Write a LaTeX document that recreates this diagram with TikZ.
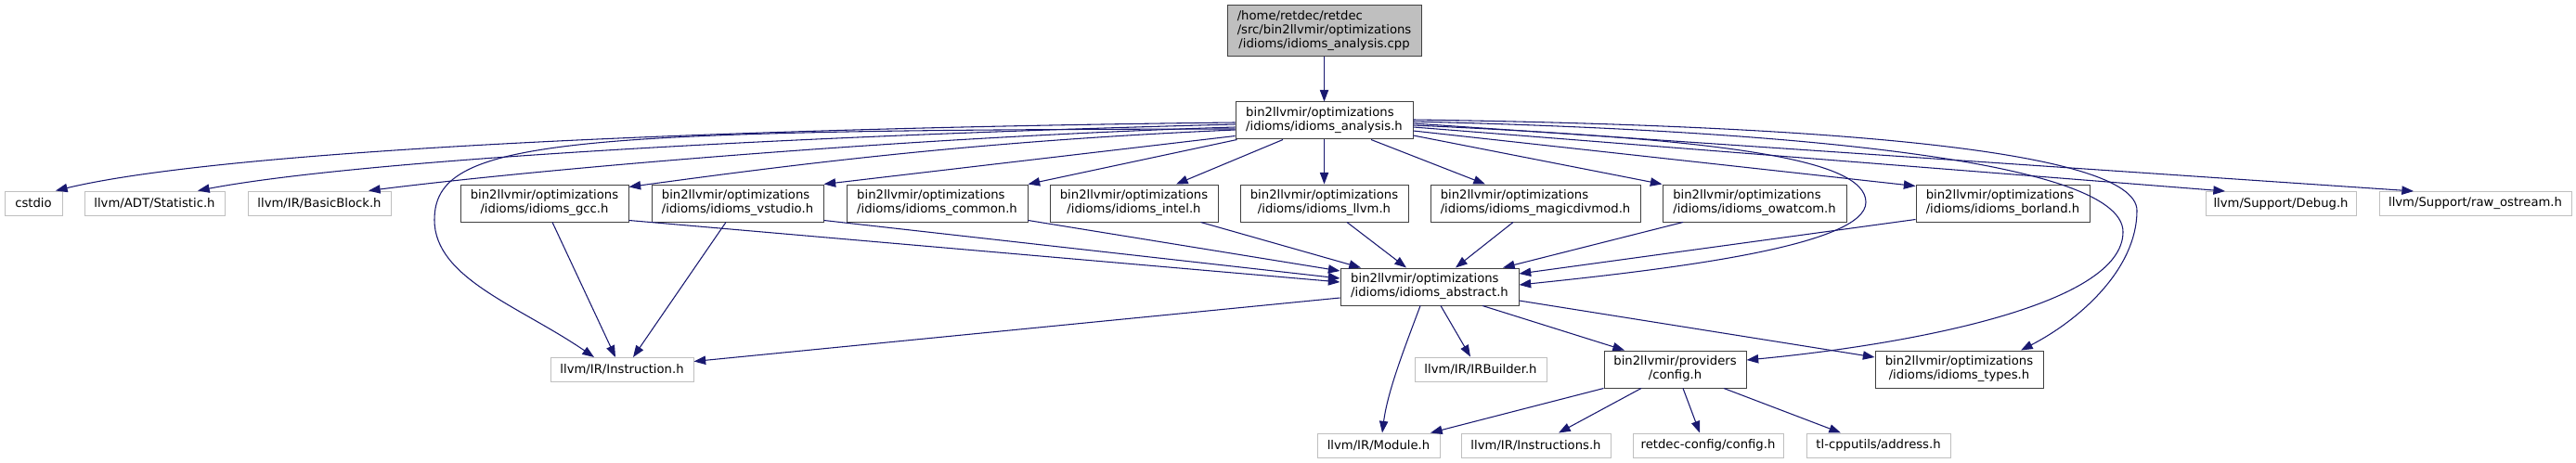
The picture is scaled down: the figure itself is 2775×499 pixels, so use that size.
\documentclass[tikz,border=0pt]{standalone}
\usepackage{fontspec}
\setmainfont{DejaVu Sans}
\usetikzlibrary{arrows.meta}
\definecolor{mblue}{HTML}{191970}
\definecolor{nbord}{HTML}{404040}
\definecolor{ebord}{HTML}{BFBFBF}
\definecolor{topfill}{HTML}{BFBFBF}
\newcommand\lbl{\fontsize{9.9}{11.25}\selectfont}
\newcommand\two[2]{\begin{tabular}{@{}l@{}}#1\\\multicolumn{1}{@{}c@{}}{#2}\end{tabular}}
\newcommand\three[3]{\begin{tabular}{@{}l@{}}#1\\#2\\\multicolumn{1}{@{}c@{}}{#3}\end{tabular}}
\tikzset{
  sz/.style 2 args={minimum width=#1*0.75pt, minimum height=#2*0.75pt},
  hnode/.style={draw=nbord, fill=white, line width=0.75pt, inner sep=0pt, font=\lbl},
  enode/.style={draw=ebord, fill=white, line width=0.75pt, inner sep=0pt, font=\lbl},
  dep/.style={draw=mblue, line width=0.8pt, -{Triangle[length=9.5pt,width=7pt]}},
}
\begin{document}
\begin{tikzpicture}[x=0.75pt,y=-0.75pt]
\useasboundingbox (0,0) rectangle (2775,499);
% nodes
\node[hnode, fill=topfill, sz={209}{55}] (top) at (1426.5,33.5) {\three{/home/retdec/retdec}{/src/bin2llvmir/optimizations}{/idioms/idioms\_analysis.cpp}};
\node[hnode, sz={191}{40}] (analysis) at (1426.5,130) {\two{bin2llvmir/optimizations}{/idioms/idioms\_analysis.h}};
\node[enode, sz={62}{26}] (cstdio) at (36,219) {cstdio};
\node[enode, sz={151}{26}] (stat) at (166.5,219) {llvm/ADT/Statistic.h};
\node[enode, sz={154}{26}] (bb) at (344,219) {llvm/IR/BasicBlock.h};
\node[hnode, sz={181}{40}] (gcc) at (586.5,219) {\two{bin2llvmir/optimizations}{/idioms/idioms\_gcc.h}};
\node[hnode, sz={185}{40}] (vstudio) at (794.5,219) {\two{bin2llvmir/optimizations}{/idioms/idioms\_vstudio.h}};
\node[hnode, sz={195}{40}] (common) at (1009.5,219) {\two{bin2llvmir/optimizations}{/idioms/idioms\_common.h}};
\node[hnode, sz={181}{40}] (intel) at (1221.5,219) {\two{bin2llvmir/optimizations}{/idioms/idioms\_intel.h}};
\node[hnode, sz={181}{40}] (llvm) at (1426.5,219) {\two{bin2llvmir/optimizations}{/idioms/idioms\_llvm.h}};
\node[hnode, sz={226}{40}] (magic) at (1654,219) {\two{bin2llvmir/optimizations}{/idioms/idioms\_magicdivmod.h}};
\node[hnode, sz={198}{40}] (owatcom) at (1890,219) {\two{bin2llvmir/optimizations}{/idioms/idioms\_owatcom.h}};
\node[hnode, sz={187}{40}] (borland) at (2157.5,219) {\two{bin2llvmir/optimizations}{/idioms/idioms\_borland.h}};
\node[enode, sz={162}{26}] (debug) at (2457,219.5) {llvm/Support/Debug.h};
\node[enode, sz={207}{26}] (raw) at (2666.5,219.5) {llvm/Support/raw\_ostream.h};
\node[hnode, sz={192}{40}] (abstract) at (1540,309) {\two{bin2llvmir/optimizations}{/idioms/idioms\_abstract.h}};
\node[enode, sz={154}{26}] (instr) at (670,398.5) {llvm/IR/Instruction.h};
\node[enode, sz={142}{26}] (irb) at (1595,398) {llvm/IR/IRBuilder.h};
\node[hnode, sz={153}{40}] (config) at (1804.5,398) {\two{bin2llvmir/providers}{/config.h}};
\node[hnode, sz={181}{40}] (types) at (2110.5,398) {\two{bin2llvmir/optimizations}{/idioms/idioms\_types.h}};
\node[enode, sz={132}{26}] (module) at (1485,480) {llvm/IR/Module.h};
\node[enode, sz={161}{26}] (instrs) at (1654.5,480) {llvm/IR/Instructions.h};
\node[enode, sz={162}{26}] (rcfg) at (1840,480) {retdec-config/config.h};
\node[enode, sz={155}{26}] (tl) at (2023.5,480) {tl-cpputils/address.h};
% edges from top and analysis
\draw[dep] (top.south) -- (analysis.north);
\draw[dep] (analysis.south) -- (llvm.north);
\draw[dep] ([shift={(-44.5,0)}]analysis.south) -- ([shift={(45.5,0)}]intel.north);
\draw[dep] ([shift={(50.5,0)}]analysis.south) -- ([shift={(-54,0)}]magic.north);
\draw[dep] ([shift={(2,0)}]analysis.south west) -- (common.north east);
\draw[dep] ([shift={(0,-4)}]analysis.south west) -- (vstudio.north east);
\draw[dep] ([shift={(0,10)}]analysis.west) .. controls (1050,152) and (850,178) .. ([shift={(0,3)}]gcc.north east);
\draw[dep] ([shift={(0,2)}]analysis.west) .. controls (800,138) and (250,160) .. ([shift={(24,0)}]cstdio.north);
\draw[dep] ([shift={(0,4)}]analysis.west) .. controls (900,145) and (400,170) .. ([shift={(46.5,0)}]stat.north);
\draw[dep] ([shift={(0,7)}]analysis.west) .. controls (1000,147) and (600,180) .. ([shift={(53,0)}]bb.north);
\draw[dep] ([shift={(0,9)}]analysis.west) .. controls (600,140) and (468,150) .. (468,237) .. controls (468,300) and (560,330) .. ([shift={(-30,0)}]instr.north);
\draw[dep] ([shift={(0,16)}]analysis.east) -- (owatcom.north west);
\draw[dep] ([shift={(0,11)}]analysis.east) -- ([shift={(0,2)}]borland.north west);
\draw[dep] ([shift={(0,7)}]analysis.east) -- ([shift={(-60,0)}]debug.north);
\draw[dep] ([shift={(0,3)}]analysis.east) -- ([shift={(-66.5,0)}]raw.north);
\draw[dep] ([shift={(0,5)}]analysis.east) .. controls (1850,150) and (2010,170) .. (2010,218) .. controls (2010,265) and (1800,290) .. ([shift={(0,-2)}]abstract.east);
\draw[dep] ([shift={(0,1)}]analysis.east) .. controls (1900,140) and (2287,170) .. (2287,250) .. controls (2287,330) and (2050,372) .. ([shift={(0,-10)}]config.east);
\draw[dep] ([shift={(0,-1)}]analysis.east) .. controls (1950,135) and (2302,160) .. (2302,227) .. controls (2302,290) and (2240,345) .. ([shift={(66.5,0)}]types.north);
% edges to Instruction
\draw[dep] ([shift={(8.5,0)}]gcc.south) -- ([shift={(-7,0)}]instr.north);
\draw[dep] ([shift={(-12.5,0)}]vstudio.south) -- ([shift={(12,0)}]instr.north);
\draw[dep] ([shift={(0,12)}]abstract.west) -- ([shift={(0,-9)}]instr.east);
% edges to abstract
\draw[dep] ([shift={(0,-2)}]gcc.south east) -- ([shift={(0,-5)}]abstract.west);
\draw[dep] ([shift={(0,-2)}]vstudio.south east) -- ([shift={(0,-9)}]abstract.west);
\draw[dep] ([shift={(0,-2)}]common.south east) -- ([shift={(0,-17)}]abstract.west);
\draw[dep] ([shift={(-19,0)}]intel.south east) -- ([shift={(-74,0)}]abstract.north);
\draw[dep] ([shift={(24.5,0)}]llvm.south) -- ([shift={(-25,0)}]abstract.north);
\draw[dep] ([shift={(-24,0)}]magic.south) -- ([shift={(28,0)}]abstract.north);
\draw[dep] ([shift={(-77,0)}]owatcom.south) -- ([shift={(79,0)}]abstract.north);
\draw[dep] ([shift={(0,-3)}]borland.south west) -- ([shift={(0,-14)}]abstract.east);
% edges from abstract
\draw[dep] ([shift={(0,15)}]abstract.east) -- ([shift={(0,-13)}]types.west);
\draw[dep] ([shift={(57,0)}]abstract.south) -- ([shift={(-54.5,0)}]config.north);
\draw[dep] ([shift={(12,0)}]abstract.south) -- ([shift={(-11,0)}]irb.north);
\draw[dep] ([shift={(-10,0)}]abstract.south) .. controls (1515,370) and (1495,420) .. ([shift={(4,0)}]module.north);
% edges from config
\draw[dep] (config.south west) -- ([shift={(56,0)}]module.north);
\draw[dep] ([shift={(-36.5,0)}]config.south) -- ([shift={(24.5,0)}]instrs.north);
\draw[dep] ([shift={(8.5,0)}]config.south) -- ([shift={(-9,0)}]rcfg.north);
\draw[dep] ([shift={(52.5,0)}]config.south) -- ([shift={(-40.5,0)}]tl.north);
\end{tikzpicture}
\end{document}
